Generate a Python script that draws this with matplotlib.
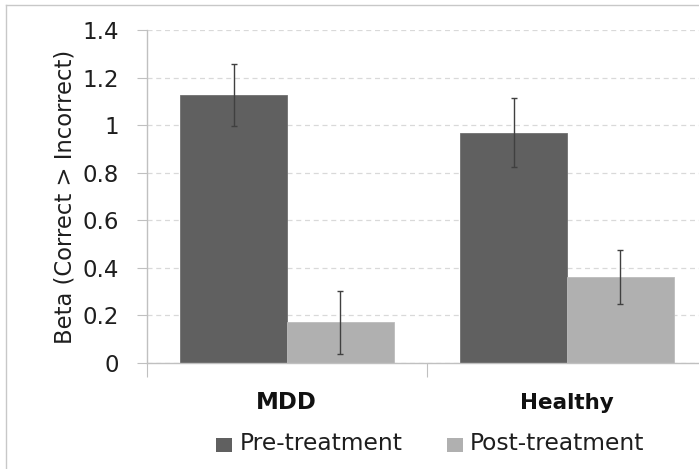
import matplotlib
matplotlib.use("Agg")
import matplotlib.pyplot as plt
import numpy as np
from matplotlib.lines import Line2D
from matplotlib.patches import Rectangle

plt.rcParams['font.family'] = ['DejaVu Sans']

groups = ["MDD", "Healthy"]
series = ["Pre-treatment", "Post-treatment"]
pre_vals = [1.127, 0.969]
post_vals = [0.171, 0.362]
pre_err = [0.131, 0.147]
post_err = [0.133, 0.113]
yticks = [0, 0.2, 0.4, 0.6, 0.8, 1.0, 1.2, 1.4]
ytick_labels = ["0", "0.2", "0.4", "0.6", "0.8", "1", "1.2", "1.4"]

W, H = 699, 469
fig = plt.figure(figsize=(W/100, H/100), dpi=100)
ax = fig.add_axes([147/W, (H-363)/H, 560/W, 333/H])

pos = np.array([0.5, 1.5])
bw = 0.382
c_pre, c_post = "#606060", "#b0b0b0"
ax.bar(pos - bw/2, pre_vals, bw, color=c_pre, edgecolor="#707070", linewidth=0.6, zorder=2)
ax.bar(pos + bw/2, post_vals, bw, color=c_post, edgecolor="#bcbcbc", linewidth=0.6, zorder=2)
ax.errorbar(pos - bw/2, pre_vals, yerr=pre_err, fmt="none", ecolor="#404040",
            elinewidth=1, capsize=2.5, capthick=1, zorder=3)
ax.errorbar(pos + bw/2, post_vals, yerr=post_err, fmt="none", ecolor="#404040",
            elinewidth=1, capsize=2.5, capthick=1, zorder=3)

ax.set_xlim(0, 2)
ax.set_ylim(0, 1.4)
ax.set_yticks(yticks)
ax.set_yticklabels(ytick_labels)
ax.set_xticks([0, 1, 2])
ax.set_xticklabels([])
ax.yaxis.grid(True, linestyle=(0, (4, 3)), color="#d9d9d9", linewidth=0.9, zorder=0)
ax.set_axisbelow(True)
for s in ["top", "right"]:
    ax.spines[s].set_visible(False)
for s in ["left", "bottom"]:
    ax.spines[s].set_color("#c0c0c0")
    ax.spines[s].set_linewidth(1)
ax.tick_params(axis="y", direction="out", length=7, color="#c0c0c0", labelsize=16.5,
               labelcolor="#1e1e1e", pad=13)
ax.tick_params(axis="x", direction="out", length=10, color="#c0c0c0")
fig.text(65/W, 1 - 197/H, "Beta (Correct > Incorrect)", rotation=90, ha="center", va="center",
         fontsize=16.3, color="#1e1e1e")

# category labels
fig.text(286.5/W, 1 - 409/H, groups[0], ha="center", va="baseline", fontsize=16.5,
         fontweight="bold", color="#111111")
fig.text(567/W, 1 - 409/H, groups[1], ha="center", va="baseline", fontsize=15.5,
         fontweight="bold", color="#111111")

# legend
fig.patches.append(Rectangle((216/W, 1 - 452/H), 16/W, 14/H, transform=fig.transFigure,
                             facecolor=c_pre, edgecolor="none"))
fig.text(240/W, 1 - 450/H, series[0], ha="left", va="baseline", fontsize=16.8, color="#1e1e1e")
fig.patches.append(Rectangle((447/W, 1 - 452/H), 16/W, 14/H, transform=fig.transFigure,
                             facecolor=c_post, edgecolor="none"))
fig.text(470/W, 1 - 450/H, series[1], ha="left", va="baseline", fontsize=16.8, color="#1e1e1e")

# outer frame
fig.lines.append(Line2D([5.5/W, 5.5/W], [0, 1 - 5.5/H], transform=fig.transFigure, color="#c8c8c8", lw=1))
fig.lines.append(Line2D([5.5/W, 1], [1 - 5.5/H, 1 - 5.5/H], transform=fig.transFigure, color="#c8c8c8", lw=1))

fig.savefig("out.png", dpi=100)
